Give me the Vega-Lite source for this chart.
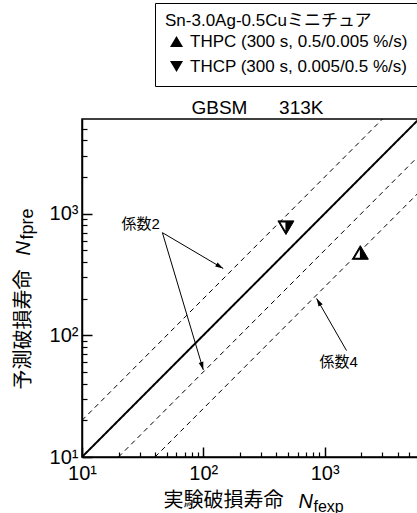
{
  "$schema": "https://vega.github.io/schema/vega-lite/v6.json",
  "width": 337,
  "height": 338,
  "autosize": {"type": "none"},
  "padding": {"left": 82, "top": 119, "right": 0, "bottom": 56},
  "background": "white",
  "config": {"view": {"stroke": "black", "strokeWidth": 1.5}, "font": "Liberation Sans"},
  "datasets": {
    "refs": [
      {"line": "y=x", "x": 10, "y": 10},
      {"line": "y=x", "x": 6000, "y": 6000},
      {"line": "y=2x", "x": 10, "y": 20},
      {"line": "y=2x", "x": 3000, "y": 6000},
      {"line": "y=x/2", "x": 20, "y": 10},
      {"line": "y=x/2", "x": 6000, "y": 3000},
      {"line": "y=x/4", "x": 40, "y": 10},
      {"line": "y=x/4", "x": 6000, "y": 1500}
    ],
    "arrows": [
      {"id": "a1", "x": 46, "y": 698, "x2": 146, "y2": 354},
      {"id": "a2", "x": 46, "y": 698, "x2": 100, "y2": 52},
      {"id": "a3", "x": 1515, "y": 75, "x2": 859, "y2": 201}
    ],
    "notes": [
      {"label": "係数2", "x": 30.5, "y": 828},
      {"label": "係数4", "x": 1303, "y": 60}
    ],
    "points": [
      {"series": "THPC (300 s, 0.5/0.005 %/s)", "x": 1970, "y": 480},
      {"series": "THCP (300 s, 0.005/0.5 %/s)", "x": 480, "y": 767}
    ]
  },
  "layer": [
    {
      "data": {"name": "refs"},
      "mark": {"type": "line", "clip": true, "color": "black"},
      "encoding": {
        "x": {"field": "x", "type": "quantitative", "scale": {"type": "log", "domain": [10, 6000], "nice": false},
          "axis": {"orient": "bottom", "values": [10, 100, 1000], "labelExpr": "datum.value == 10 ? '10¹' : datum.value == 100 ? '10²' : '10³'", "labelFont": "Liberation Sans", "labelFontSize": 20, "labelColor": "black", "labelPadding": 16, "labelFlush": false, "labelOverlap": false, "tickSize": -10, "tickWidth": 1.5, "tickColor": "black", "domainColor": "black", "domainWidth": 1.5, "grid": false,
            "title": "実験破損寿命", "titleFont": "Noto Sans CJK JP", "titleFontSize": 20, "titleFontWeight": "normal", "titleColor": "black", "titleX": 81, "titleY": 49, "titleAlign": "left", "titleAnchor": "start", "titleBaseline": "alphabetic", "titleAngle": 0}},
        "y": {"field": "y", "type": "quantitative", "scale": {"type": "log", "domain": [10, 6000], "nice": false},
          "axis": {"orient": "left", "values": [10, 100, 1000], "labelExpr": "datum.value == 10 ? '10¹' : datum.value == 100 ? '10²' : '10³'", "labelFont": "Liberation Sans", "labelFontSize": 20, "labelColor": "black", "labelPadding": 14, "labelFlush": false, "labelOverlap": false, "tickSize": -10, "tickWidth": 1.5, "tickColor": "black", "domainColor": "black", "domainWidth": 1.5, "grid": false,
            "title": "予測破損寿命", "titleFont": "Noto Sans CJK JP", "titleFontSize": 20, "titleFontWeight": "normal", "titleColor": "black", "titleX": -59, "titleY": 270, "titleAlign": "left", "titleAnchor": "start", "titleBaseline": "middle", "titleAngle": 270}},
        "detail": {"field": "line"},
        "strokeDash": {"condition": {"test": "datum.line === 'y=x'", "value": [1, 0]}, "value": [5, 4]},
        "strokeWidth": {"condition": {"test": "datum.line === 'y=x'", "value": 2}, "value": 1}
      }
    },
    {
      "data": {"name": "arrows"},
      "mark": {"type": "rule", "color": "black", "strokeWidth": 1},
      "encoding": {
        "x": {"field": "x", "type": "quantitative", "scale": {"type": "log", "domain": [10, 6000], "nice": false},
          "axis": {"orient": "bottom", "values": [20, 30, 40, 50, 60, 70, 80, 90, 200, 300, 400, 500, 600, 700, 800, 900, 2000, 3000, 4000, 5000], "labels": false, "domain": false, "tickSize": -5, "tickWidth": 1.2, "tickColor": "black", "grid": false,
            "title": "N", "titleFont": "Liberation Sans", "titleFontStyle": "italic", "titleFontSize": 20, "titleFontWeight": "normal", "titleColor": "black", "titleX": 216, "titleY": 50, "titleAlign": "left", "titleAnchor": "start", "titleBaseline": "alphabetic", "titleAngle": 0}},
        "y": {"field": "y", "type": "quantitative", "scale": {"type": "log", "domain": [10, 6000], "nice": false},
          "axis": {"orient": "left", "values": [20, 30, 40, 50, 60, 70, 80, 90, 200, 300, 400, 500, 600, 700, 800, 900, 2000, 3000, 4000, 5000], "labels": false, "domain": false, "tickSize": -5, "tickWidth": 1.2, "tickColor": "black", "grid": false,
            "title": "N", "titleFont": "Liberation Sans", "titleFontStyle": "italic", "titleFontSize": 20, "titleFontWeight": "normal", "titleColor": "black", "titleX": -59, "titleY": 136, "titleAlign": "left", "titleAnchor": "start", "titleBaseline": "middle", "titleAngle": 270}},
        "x2": {"field": "x2"},
        "y2": {"field": "y2"}
      }
    },
    {
      "data": {"name": "notes"},
      "mark": {"type": "text", "font": "Liberation Sans, Noto Sans CJK JP", "fontSize": 15, "color": "black", "align": "center", "baseline": "middle"},
      "encoding": {
        "x": {"field": "x", "type": "quantitative", "scale": {"type": "log", "domain": [10, 6000], "nice": false},
          "axis": {"orient": "bottom", "labels": false, "ticks": false, "domain": false, "grid": false,
            "title": "fexp", "titleFont": "Liberation Sans", "titleFontSize": 16, "titleFontWeight": "normal", "titleColor": "black", "titleX": 231, "titleY": 54, "titleAlign": "left", "titleAnchor": "start", "titleBaseline": "alphabetic", "titleAngle": 0}},
        "y": {"field": "y", "type": "quantitative", "scale": {"type": "log", "domain": [10, 6000], "nice": false},
          "axis": {"orient": "left", "labels": false, "ticks": false, "domain": false, "grid": false,
            "title": "fpre", "titleFont": "Liberation Sans", "titleFontSize": 18, "titleFontWeight": "normal", "titleColor": "black", "titleX": -55, "titleY": 120, "titleAlign": "left", "titleAnchor": "start", "titleBaseline": "middle", "titleAngle": 270}},
        "text": {"field": "label"}
      }
    },
    {
      "data": {"name": "arrows"},
      "transform": [{"filter": "datum.id == 'a1'"}],
      "mark": {"type": "point", "shape": "M0,0L-0.3,1L0.3,1Z", "angle": 120.5, "filled": true, "color": "black", "size": 256, "opacity": 1},
      "encoding": {
        "x": {"field": "x2", "type": "quantitative", "scale": {"type": "log", "domain": [10, 6000], "nice": false},
          "axis": {"orient": "top", "labels": false, "ticks": false, "domain": false, "grid": false,
            "title": "GBSM\u00a0\u00a0\u00a0\u00a0\u00a0\u00a0313K", "titleFont": "Liberation Sans", "titleFontSize": 19, "titleFontWeight": "normal", "titleColor": "black", "titleX": 175, "titleY": -6, "titleAlign": "center", "titleAnchor": "middle", "titleBaseline": "alphabetic", "titleAngle": 0}},
        "y": {"field": "y2", "type": "quantitative", "scale": {"type": "log", "domain": [10, 6000], "nice": false}, "axis": null}
      }
    },
    {
      "data": {"name": "arrows"},
      "transform": [{"filter": "datum.id == 'a2'"}],
      "mark": {"type": "point", "shape": "M0,0L-0.3,1L0.3,1Z", "angle": 163.5, "filled": true, "color": "black", "size": 256, "opacity": 1},
      "encoding": {
        "x": {"field": "x2", "type": "quantitative", "scale": {"type": "log", "domain": [10, 6000], "nice": false}, "axis": null},
        "y": {"field": "y2", "type": "quantitative", "scale": {"type": "log", "domain": [10, 6000], "nice": false}, "axis": null}
      }
    },
    {
      "data": {"name": "arrows"},
      "transform": [{"filter": "datum.id == 'a3'"}],
      "mark": {"type": "point", "shape": "M0,0L-0.3,1L0.3,1Z", "angle": 330, "filled": true, "color": "black", "size": 256, "opacity": 1},
      "encoding": {
        "x": {"field": "x2", "type": "quantitative", "scale": {"type": "log", "domain": [10, 6000], "nice": false}, "axis": null},
        "y": {"field": "y2", "type": "quantitative", "scale": {"type": "log", "domain": [10, 6000], "nice": false}, "axis": null}
      }
    },
    {
      "data": {"name": "points"},
      "mark": {"type": "point", "filled": true, "color": "black", "stroke": "black", "strokeWidth": 1, "size": 256, "opacity": 1},
      "encoding": {
        "x": {"field": "x", "type": "quantitative", "scale": {"type": "log", "domain": [10, 6000], "nice": false}, "axis": null},
        "y": {"field": "y", "type": "quantitative", "scale": {"type": "log", "domain": [10, 6000], "nice": false}, "axis": null},
        "shape": {"field": "series", "type": "nominal",
          "scale": {"domain": ["THPC (300 s, 0.5/0.005 %/s)", "THCP (300 s, 0.005/0.5 %/s)"], "range": ["M0,-0.85L1,0.85L-1,0.85Z", "M0,0.85L1,-0.85L-1,-0.85Z"]},
          "legend": {"orient": "none", "legendX": 73, "legendY": -116, "direction": "vertical",
            "title": "\u00a0\u2009Sn-3.0Ag-0.5Cuミニチュア", "titleFont": "Liberation Sans, Noto Sans CJK JP", "titleFontSize": 17, "titleFontWeight": "normal", "titleColor": "black", "titleSize": 17, "titlePadding": 3, "titleLimit": 400,
            "labelFont": "Liberation Sans", "labelFontSize": 17, "labelColor": "black", "labelOffset": 5, "labelLimit": 400,
            "symbolOffset": 3, "rowPadding": 6, "padding": 10, "strokeColor": "black", "fillColor": "white",
            "symbolSize": 169, "symbolFillColor": "black", "symbolStrokeColor": "black",
            "encode": {"symbols": {"update": {"fill": {"value": "black"}, "stroke": {"value": "black"}, "size": {"value": 169}}}}}
        }
      }
    },
    {
      "data": {"name": "points"},
      "mark": {"type": "point", "filled": true, "color": "white", "strokeWidth": 0, "size": 256, "opacity": 1},
      "encoding": {
        "x": {"field": "x", "type": "quantitative", "scale": {"type": "log", "domain": [10, 6000], "nice": false}, "axis": null},
        "y": {"field": "y", "type": "quantitative", "scale": {"type": "log", "domain": [10, 6000], "nice": false}, "axis": null},
        "shape": {"field": "series", "type": "nominal",
          "scale": {"domain": ["THPC (300 s, 0.5/0.005 %/s)", "THCP (300 s, 0.005/0.5 %/s)"], "range": ["M-0.06,-0.37L-0.06,0.66L-0.67,0.66Z", "M-0.06,0.37L-0.06,-0.66L-0.67,-0.66Z"]},
          "legend": null}
      }
    }
  ],
  "resolve": {"axis": {"x": "independent", "y": "independent"}, "scale": {"shape": "independent"}}
}
